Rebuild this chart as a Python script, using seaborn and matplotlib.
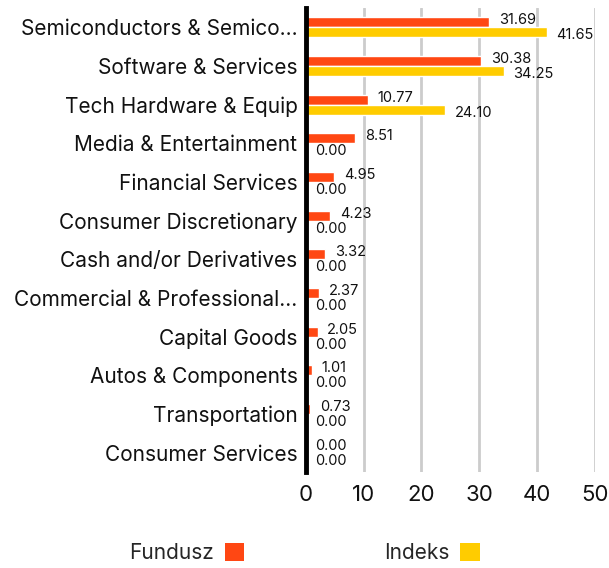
import matplotlib
matplotlib.use("Agg")
import matplotlib.pyplot as plt
import seaborn as sns
import pandas as pd
from matplotlib.patches import Patch

categories = ["Semiconductors & Semico...", "Software & Services", "Tech Hardware & Equip",
              "Media & Entertainment", "Financial Services", "Consumer Discretionary",
              "Cash and/or Derivatives", "Commercial & Professional...", "Capital Goods",
              "Autos & Components", "Transportation", "Consumer Services"]
fundusz = [31.69, 30.38, 10.77, 8.51, 4.95, 4.23, 3.32, 2.37, 2.05, 1.01, 0.73, 0.00]
indeks = [41.65, 34.25, 24.10, 0.00, 0.00, 0.00, 0.00, 0.00, 0.00, 0.00, 0.00, 0.00]
series = ["Fundusz", "Indeks"]
colors = ["#FF4713", "#FFCC00"]
xticks = [0, 10, 20, 30, 40, 50]

df = pd.DataFrame({
    "cat": categories * 2,
    "val": fundusz + indeks,
    "series": [series[0]] * len(categories) + [series[1]] * len(categories),
})

sns.set_style("white")
plt.rcParams["font.family"] = ["Inter", "DejaVu Sans"]

fig = plt.figure(figsize=(6.09, 5.68), dpi=100)
ax = fig.add_axes([0.502, 0.169, 0.475, 0.817])

sns.barplot(data=df, y="cat", x="val", hue="series", orient="h",
            palette=colors, width=0.52, gap=0, ax=ax, legend=False,
            saturation=1, errorbar=None)

ax.set_xlim(0, 50)
ax.set_ylim(len(categories) - 0.5, -0.5)
ax.set_xticks(xticks)
ax.set_xticklabels([str(t) for t in xticks], fontsize=16, color="#111111")
ax.set_xlabel("")
ax.set_ylabel("")
ax.tick_params(axis="y", length=0, pad=6, labelsize=15, labelcolor="#111111")
ax.tick_params(axis="x", length=0, pad=9)
for s in ["top", "right", "bottom"]:
    ax.spines[s].set_visible(False)
ax.spines["left"].set_linewidth(3.5)
ax.spines["left"].set_color("black")
ax.spines["left"].set_zorder(5)
for t in xticks[1:]:
    ax.axvline(t, color="#cccccc", lw=2, zorder=0)

vals = [fundusz, indeks]
for ci, cont in enumerate(ax.containers):
    dy = -2 if ci == 0 else 3
    for bar, v in zip(cont, vals[ci]):
        yc = bar.get_y() + bar.get_height() / 2
        ax.annotate(f"{v:.2f}", xy=(bar.get_width(), yc), xytext=(7.0, -dy * 0.72),
                    textcoords="offset points", ha="left", va="center",
                    fontsize=10.5, color="#111111")

handles = [Patch(facecolor=c, edgecolor="none") for c in colors]
fig.legend(handles, series, loc="center", bbox_to_anchor=(0.5, 0.026), ncol=2,
           frameon=False, markerfirst=False, fontsize=15, handlelength=0.95,
           handleheight=0.95, handletextpad=0.5, columnspacing=6.7)

fig.savefig("out.png", dpi=100)
